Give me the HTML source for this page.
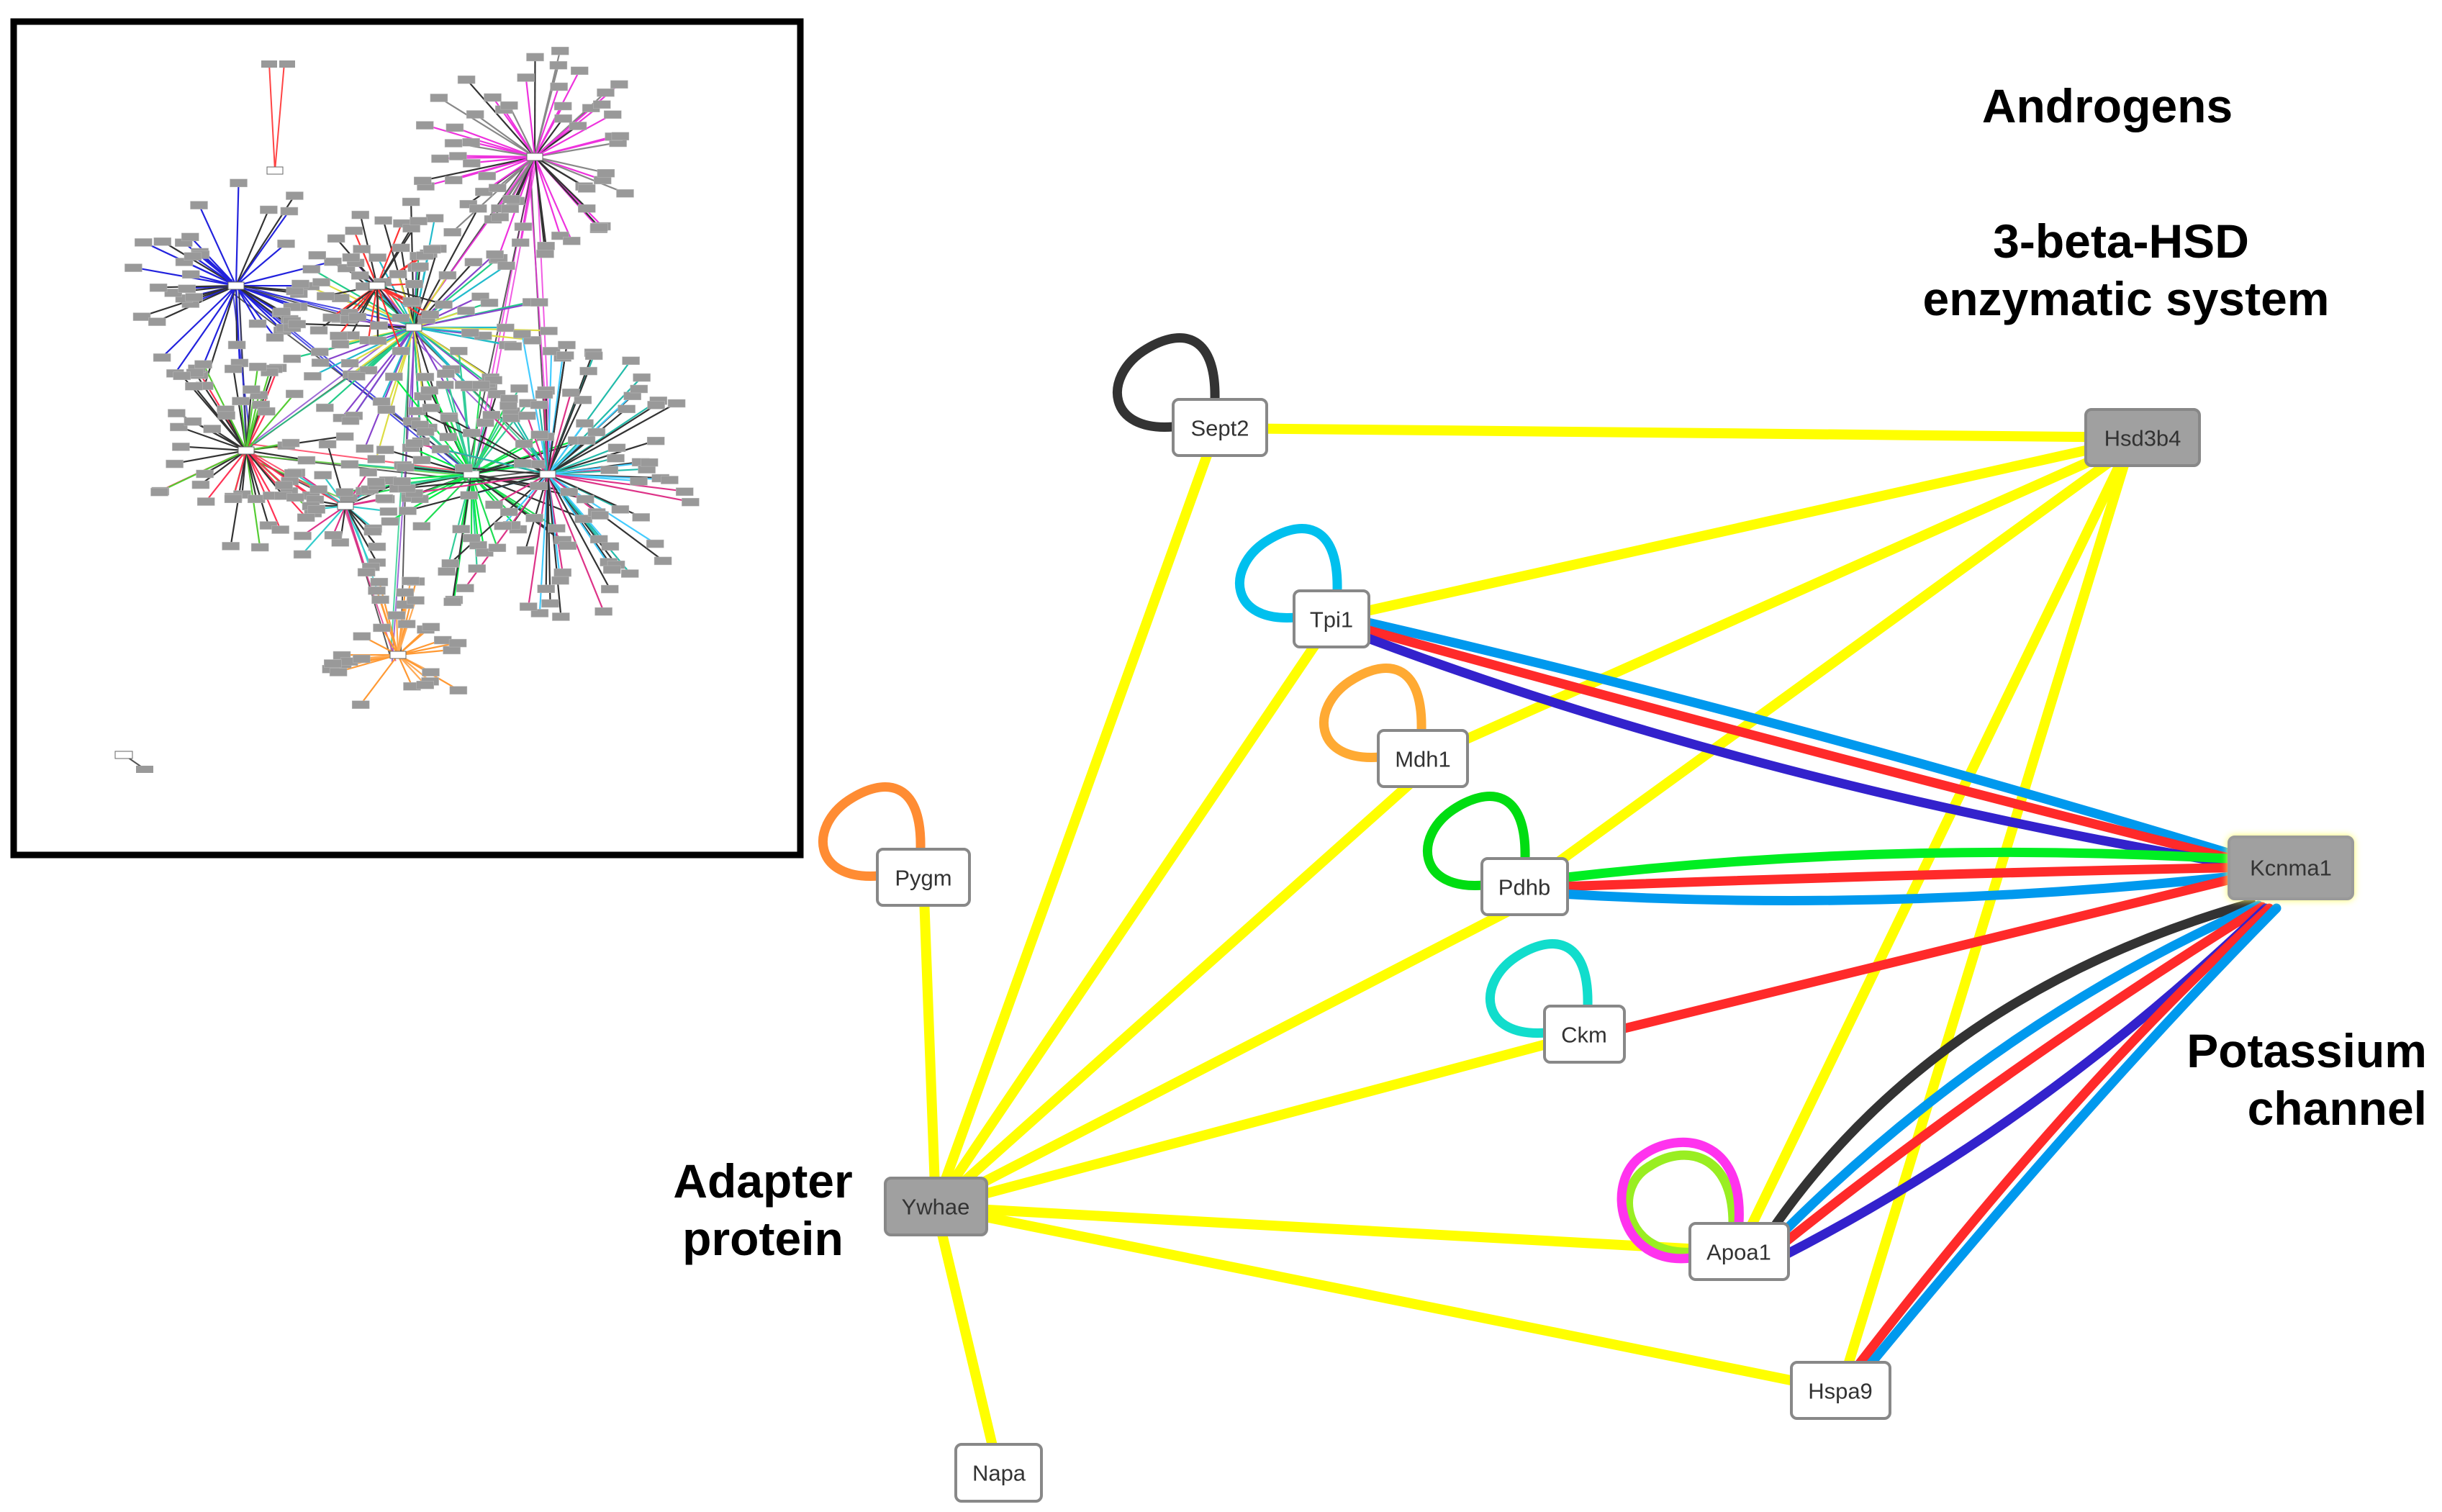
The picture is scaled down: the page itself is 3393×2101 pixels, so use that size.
<!DOCTYPE html>
<html><head><meta charset="utf-8"><style>
html,body{margin:0;padding:0;background:#fff;}
svg{display:block;}
.t{font-family:"Liberation Sans",sans-serif;font-weight:bold;fill:#000;}
.n{font-family:"Liberation Sans",sans-serif;font-size:31px;fill:#333;text-anchor:middle;dominant-baseline:central;}
</style></head><body>
<svg id="s" width="3393" height="2101" viewBox="0 0 3393 2101" xmlns="http://www.w3.org/2000/svg">
<rect x="0" y="0" width="3393" height="2101" fill="#fff"/>
<g id="inset"></g>
<rect x="19" y="30" width="1093" height="1158" fill="none" stroke="#000" stroke-width="9"/>

<g transform="translate(-12,0)">
<g fill="none" stroke-linecap="round">
<g stroke="#ffff00" stroke-width="14">
<line x1="1707" y1="595" x2="2990" y2="608"/>
<line x1="1690" y1="630" x2="1312" y2="1677"/>
<line x1="1862" y1="860" x2="2990" y2="608"/>
<line x1="1989" y1="1054" x2="2990" y2="608"/>
<line x1="2130" y1="1232" x2="2990" y2="608"/>
<line x1="2428" y1="1739" x2="2960" y2="640"/>
<line x1="2569" y1="1932" x2="2965" y2="640"/>
<line x1="1312" y1="1677" x2="1840" y2="895"/>
<line x1="1312" y1="1677" x2="1970" y2="1090"/>
<line x1="1312" y1="1677" x2="2110" y2="1265"/>
<line x1="1312" y1="1677" x2="2213" y2="1437"/>
<line x1="1312" y1="1677" x2="2428" y2="1739"/>
<line x1="1312" y1="1677" x2="2569" y2="1932"/>
<line x1="1312" y1="1677" x2="1400" y2="2047"/>
<line x1="1312" y1="1677" x2="1295" y2="1219"/>
</g>
<path d="M1900 862 Q2500 1000 3140 1195" stroke="#0099ee" stroke-width="13"/>
<path d="M1900 872 Q2500 1040 3140 1200" stroke="#ff2a2a" stroke-width="13"/>
<path d="M1900 882 Q2450 1090 3140 1205" stroke="#3322cc" stroke-width="13"/>
<path d="M2180 1220 Q2650 1165 3140 1195" stroke="#00ee22" stroke-width="13"/>
<path d="M2180 1232 Q2650 1215 3140 1205" stroke="#ff2a2a" stroke-width="13"/>
<path d="M2180 1242 Q2650 1270 3140 1215" stroke="#0099ee" stroke-width="13"/>
<path d="M2265 1430 L3140 1215" stroke="#ff2a2a" stroke-width="13"/>
<path d="M2472 1712 Q2700 1380 3140 1255" stroke="#333" stroke-width="13"/>
<path d="M2480 1722 Q2780 1420 3150 1258" stroke="#0099ee" stroke-width="13"/>
<path d="M2485 1732 Q2800 1480 3155 1260" stroke="#ff2a2a" stroke-width="13"/>
<path d="M2490 1745 Q2850 1560 3160 1262" stroke="#3322cc" stroke-width="13"/>
<path d="M2590 1902 Q2900 1500 3165 1262" stroke="#ff2a2a" stroke-width="13"/>
<path d="M2603 1905 Q2920 1520 3175 1262" stroke="#0099ee" stroke-width="13"/>
<g stroke-width="13">
<path d="M1642 593 C1550 600 1545 525 1600 488 C1650 455 1702 460 1700 555" stroke="#333"/>
<path d="M1812 858 C1720 865 1715 790 1770 753 C1820 720 1872 725 1870 820" stroke="#00c0ee"/>
<path d="M1929 1052 C1837 1059 1832 984 1887 947 C1937 914 1989 919 1987 1014" stroke="#ffaa33"/>
<path d="M1233 1217 C1141 1224 1136 1149 1191 1112 C1241 1079 1293 1084 1291 1179" stroke="#ff8c33"/>
<path d="M2073 1230 C1981 1237 1976 1162 2031 1125 C2081 1092 2133 1097 2131 1192" stroke="#00dd11"/>
<path d="M2160 1435 C2068 1442 2063 1367 2118 1330 C2168 1297 2220 1302 2218 1397" stroke="#11ddcc"/>
<path d="M2362 1740 C2270 1745 2250 1650 2305 1620 C2350 1590 2420 1600 2420 1700" stroke="#99ee22"/>
<path d="M2362 1748 C2260 1760 2240 1640 2295 1605 C2345 1570 2435 1580 2428 1700" stroke="#ff33ee"/>
</g>
</g>

<g stroke="#888" stroke-width="4">
<rect x="1642" y="555" width="130" height="78" rx="8" fill="#fff"/>
<rect x="2910" y="569" width="158" height="78" rx="8" fill="#a0a0a0"/>
<rect x="1810" y="821" width="104" height="78" rx="8" fill="#fff"/>
<rect x="1927" y="1015" width="124" height="78" rx="8" fill="#fff"/>
<rect x="1231" y="1180" width="128" height="78" rx="8" fill="#fff"/>
<rect x="2071" y="1193" width="119" height="78" rx="8" fill="#fff"/>
<rect x="3109" y="1163" width="172" height="86" rx="8" fill="#a0a0a0" stroke="#999" style="filter:drop-shadow(0 0 5px #ffff66)"/>
<rect x="2158" y="1398" width="111" height="78" rx="8" fill="#fff"/>
<rect x="1242" y="1637" width="141" height="79" rx="8" fill="#a0a0a0"/>
<rect x="2360" y="1700" width="137" height="78" rx="8" fill="#fff"/>
<rect x="2501" y="1893" width="137" height="78" rx="8" fill="#fff"/>
<rect x="1340" y="2007" width="119" height="79" rx="8" fill="#fff"/>
</g>
<text class="n" x="1707" y="595">Sept2</text>
<text class="n" x="2989" y="609">Hsd3b4</text>
<text class="n" x="1862" y="861">Tpi1</text>
<text class="n" x="1989" y="1055">Mdh1</text>
<text class="n" x="1295" y="1220">Pygm</text>
<text class="n" x="2130" y="1233">Pdhb</text>
<text class="n" x="3195" y="1206">Kcnma1</text>
<text class="n" x="2213" y="1438">Ckm</text>
<text class="n" x="1312" y="1677">Ywhae</text>
<text class="n" x="2428" y="1740">Apoa1</text>
<text class="n" x="2569" y="1933">Hspa9</text>
<text class="n" x="1400" y="2047">Napa</text>
</g>

<text class="t" x="2928" y="170" font-size="66" text-anchor="middle">Androgens</text>
<text class="t" x="2947" y="358" font-size="66" text-anchor="middle">3-beta-HSD</text>
<text class="t" x="2954" y="438" font-size="66" text-anchor="middle">enzymatic system</text>
<text class="t" x="3372" y="1483" font-size="66" text-anchor="end">Potassium</text>
<text class="t" x="3372" y="1563" font-size="66" text-anchor="end">channel</text>
<text class="t" x="1060" y="1664" font-size="66" text-anchor="middle">Adapter</text>
<text class="t" x="1060" y="1744" font-size="66" text-anchor="middle">protein</text>
</svg>
<script>
(function(){
var g=document.getElementById('inset'),out='';
var seed=7;function r(){seed=(seed*9301+49297)%233280;return seed/233280;}
var hubs=[[743,218,160,60,['#ee33dd','#333','#ee33dd','#888']],[328,397,150,45,['#2222dd','#333','#2222dd']],
[575,455,190,70,['#333','#22cc88','#8844cc','#dddd44','#22bbcc']],[524,397,110,30,['#ff3333','#333']],
[342,626,140,50,['#333','#55cc33','#ff3355','#333']],[655,659,180,60,['#22dd55','#33cc99','#333','#00ee44']],
[761,659,210,75,['#333','#22bbaa','#333','#44ccff','#dd3388']],[480,703,100,25,['#33cccc','#333','#dd3388']],
[553,910,110,30,['#ff9933','#ff9933','#ffaa55']]];
var links=[[1,2],[1,4],[2,6],[0,2],[0,6],[2,4],[4,5],[2,8],[4,7],[5,6],[3,2],[7,8],[1,5],[0,5]];
links.forEach(function(l){var a=hubs[l[0]],b=hubs[l[1]];
for(var k=0;k<3;k++){out+='<line x1="'+(a[0]+r()*20-10)+'" y1="'+(a[1]+r()*20-10)+'" x2="'+(b[0]+r()*20-10)+'" y2="'+(b[1]+r()*20-10)+'" stroke="'+a[4][k%a[4].length]+'" stroke-width="2" opacity="0.8"/>';}});
var boxes='';
hubs.forEach(function(h){for(var i=0;i<h[3];i++){var ang=r()*6.283,d=h[2]*(0.4+0.6*r());
var x=h[0]+Math.cos(ang)*d,y=h[1]+Math.sin(ang)*d;
out+='<line x1="'+h[0]+'" y1="'+h[1]+'" x2="'+x.toFixed(1)+'" y2="'+y.toFixed(1)+'" stroke="'+h[4][i%h[4].length]+'" stroke-width="2.2"/>';
boxes+='<rect x="'+(x-12).toFixed(1)+'" y="'+(y-5).toFixed(1)+'" width="24" height="11" fill="#999" stroke="#bbb" stroke-width="0.5"/>';}
boxes+='<rect x="'+(h[0]-11)+'" y="'+(h[1]-5)+'" width="22" height="10" fill="#fff" stroke="#666" stroke-width="1"/>';});
out+='<line x1="374" y1="88" x2="382" y2="237" stroke="#ff4444" stroke-width="2"/><line x1="395" y1="88" x2="382" y2="237" stroke="#ff4444" stroke-width="2"/>';
boxes+='<rect x="363" y="84" width="22" height="10" fill="#999"/><rect x="388" y="84" width="22" height="10" fill="#999"/><rect x="371" y="232" width="22" height="10" fill="#fff" stroke="#666"/>';
out+='<line x1="171" y1="1048" x2="200" y2="1068" stroke="#555" stroke-width="2"/>';
boxes+='<rect x="160" y="1044" width="24" height="10" fill="#fff" stroke="#666"/><rect x="189" y="1064" width="24" height="10" fill="#999"/>';
g.innerHTML=out+boxes;
})();
</script>
</body></html>
